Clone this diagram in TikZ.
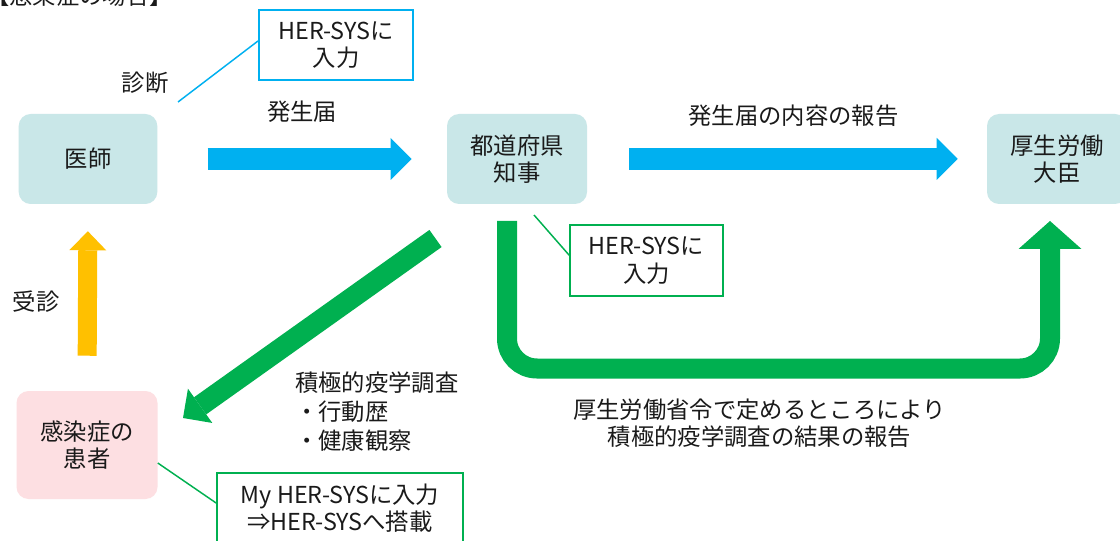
\documentclass[tikz,border=0pt]{standalone}
\usepackage{fontspec}
\setmainfont{Noto Sans CJK JP}
\usetikzlibrary{arrows.meta}
\definecolor{cblue}{HTML}{00B0F0}
\definecolor{cgreen}{HTML}{00B050}
\definecolor{cyellow}{HTML}{FFC000}
\definecolor{cteal}{HTML}{C9E7E8}
\definecolor{cpink}{HTML}{FDDFE2}
\definecolor{ctext}{HTML}{1A1A1A}
\tikzset{
  every node/.style={font=\fontsize{17.5pt}{20.6pt}\selectfont, text=ctext, inner sep=0pt},
  actor/.style={rectangle, rounded corners=9pt, fill=cteal, minimum width=104pt, minimum height=67.5pt, align=center},
  patient/.style={actor, fill=cpink, minimum width=105.75pt, minimum height=81pt},
  herblue/.style={rectangle, draw=cblue, line width=1.5pt, fill=white, align=center},
  hergreen/.style={rectangle, draw=cgreen, line width=1.3pt, fill=white, align=center},
  bluelink/.style={draw=cblue, line width=1.1pt},
  greenlink/.style={draw=cgreen, line width=1.1pt},
  bluearrow/.style={draw=cblue, line width=16pt, -{Triangle[width=31.5pt,length=15.75pt,line width=0pt]}},
  yellowarrow/.style={draw=cyellow, line width=14.25pt, -{Triangle[width=27.75pt,length=14.25pt,line width=0pt]}},
  greenarrow/.style={draw=cgreen, line width=15.75pt, -{Triangle[width=31.5pt,length=15.75pt,line width=0pt]}},
  greenu/.style={draw=cgreen, line width=15pt, rounded corners=22.5pt, -{Triangle[width=47.25pt,length=21pt,line width=0pt]}},
  label/.style={align=center},
}
\begin{document}
\begin{tikzpicture}[x=0.75pt, y=-0.75pt]
\clip (0,0) rectangle (1120,541);
\fill[white] (0,0) rectangle (1120,541);

% title (cut off at the top)
\node[anchor=base west] (title) at (-14,5) {【感染症の場合】};

% actors
\node[actor] (ishi) at (88,159) {医師};
\node[actor, minimum width=105pt] (chiji) at (517,159) {都道府県\\知事};
\node[actor, minimum width=105pt] (daijin) at (1057,159) {厚生労働\\大臣};
\node[patient] (kanja) at (87,445) {感染症の\\患者};

% HER-SYS boxes
\node[herblue, minimum width=115.5pt, minimum height=52.5pt] (her1) at (336,45) {HER-SYSに\\入力};
\node[hergreen, minimum width=114.75pt, minimum height=53.25pt] (her2) at (646.5,260.5) {HER-SYSに\\入力};
\node[hergreen, minimum width=184.5pt, minimum height=52.5pt] (myher) at (340,508) {My HER-SYSに入力\\⇒HER-SYSへ搭載};

% thin callout lines
\coordinate (shindanpt) at (178,102);
\draw[bluelink] (shindanpt) -- ([yshift=3pt]her1.west);
\coordinate (chijipt) at (534,215);
\draw[greenlink] (chijipt) -- ([yshift=4pt]her2.west);
\draw[greenlink] ([yshift=-13.5pt]kanja.east) -- ([yshift=3.75pt]myher.west);

% labels
\node[label] (shindan) at (145,83) {診断};
\node[label] (hasseitodoke) at (302,112) {発生届};
\node[label] (houkoku) at (793.5,116) {発生届の内容の報告};
\node[label] (jushin) at (36,302) {受診};
\node[align=left, anchor=north west, font=\fontsize{17.5pt}{21.4pt}\selectfont] (sekkyoku) at (295,372) {積極的疫学調査\\・行動歴\\・健康観察};
\node[label, font=\fontsize{17.5pt}{20.3pt}\selectfont] (kekka) at (759.5,423.5) {厚生労働省令で定めるところにより\\積極的疫学調査の結果の報告};

% arrows
\draw[bluearrow, shorten <=37.5pt, shorten >=26.25pt] (ishi) -- (chiji);
\draw[bluearrow, shorten <=31.5pt, shorten >=21.75pt] (chiji) -- (daijin);
\draw[yellowarrow, shorten <=26.25pt, shorten >=20.25pt] (kanja.north) -- (ishi.south);

\coordinate (gd1) at (435.5,238.5);
\coordinate (gd2) at (183,418);
\draw[greenarrow] (gd1) -- (gd2);

\coordinate (gu1) at (507,221);
\coordinate (gu2) at (1050,221);
\draw[greenu] (gu1) -- (507,368.5) -- (1050,368.5) -- (gu2);
\end{tikzpicture}
\end{document}
